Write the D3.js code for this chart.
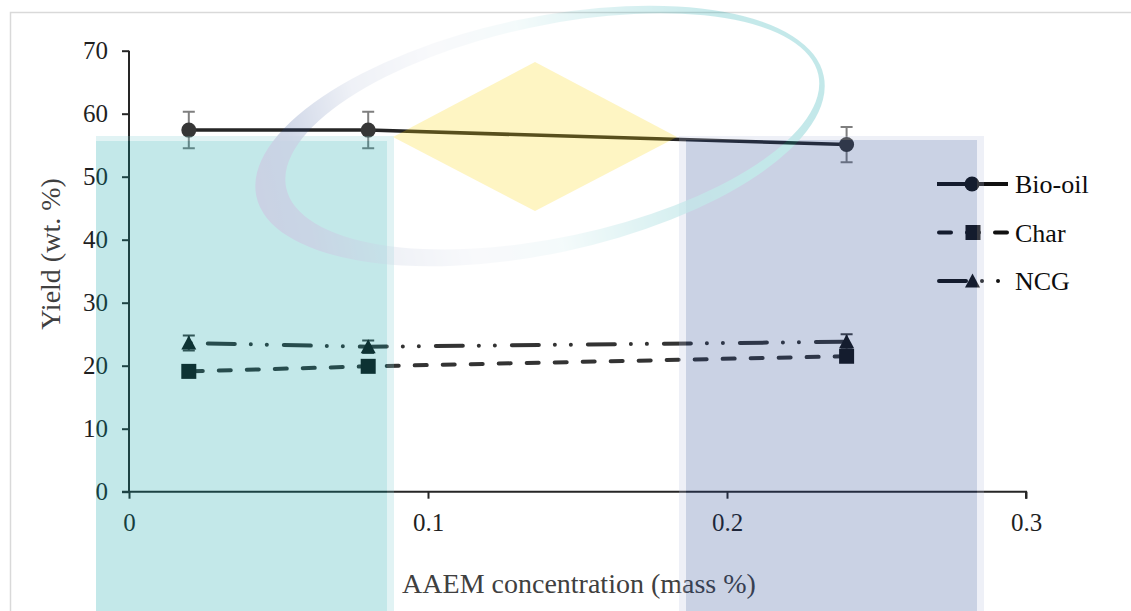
<!DOCTYPE html>
<html>
<head>
<meta charset="utf-8">
<script src="https://cdn.jsdelivr.net/npm/d3@7"></script>
<style>
  html, body { margin: 0; padding: 0; background: #fff; }
  svg { display: block; }
</style>
</head>
<body>
<svg id="chart" width="1131" height="611"></svg>
<script>
// AAEM concentration (mass %) for each run
const concentrations = [0.02, 0.08, 0.24];

// Product yields (wt. %)
const bioOilYield = [57.4, 57.4, 55.1];
const bioOilError = [2.9, 2.9, 2.8];
const charYield = [19.1, 19.9, 21.5];
const ncgYield = [23.6, 23.0, 23.8];
const ncgError = [1.2, 1.0, 1.2];

const seriesNames = ["Bio-oil", "Char", "NCG"];
const xTickValues = [0, 0.1, 0.2, 0.3];
const xTickLabels = ["0", "0.1", "0.2", "0.3"];
const yTickValues = [0, 10, 20, 30, 40, 50, 60, 70];

const xTitle = "AAEM concentration (mass %)";
const yTitle = "Yield (wt. %)";

const FONT = "'Liberation Serif', 'Times New Roman', Times, serif";

const svg = d3.select("#chart");
const W = 1131, H = 611;

svg.append("rect").attr("width", W).attr("height", H).attr("fill", "#fff");
// outer frame
svg.append("rect")
  .attr("x", 10.5).attr("y", 12.5)
  .attr("width", W + 20).attr("height", H + 20)
  .attr("fill", "none").attr("stroke", "#d9d9d9").attr("stroke-width", 1.5);

const x = d3.scaleLinear().domain([0, 0.3]).range([129, 1026]);
const y = d3.scaleLinear().domain([0, 70]).range([491.7, 50.7]);

// axes
const yAxis = svg.append("g")
  .attr("transform", `translate(${x(0)},0)`)
  .call(d3.axisLeft(y).tickValues(yTickValues).tickSize(7).tickPadding(14).tickFormat(d3.format("d")));
const xAxis = svg.append("g")
  .attr("transform", `translate(0,${y(0)})`)
  .call(d3.axisBottom(x).tickValues(xTickValues).tickSize(7).tickPadding(13)
    .tickFormat((d, i) => xTickLabels[i]));

[xAxis, yAxis].forEach(g => {
  g.attr("font-family", FONT).attr("font-size", 25);
  g.select(".domain").attr("stroke", "#262626").attr("stroke-width", 2);
  g.selectAll(".tick line").attr("stroke", "#262626").attr("stroke-width", 2);
  g.selectAll(".tick text")
    .attr("fill", "#1f1f1f")
    .attr("font-family", FONT)
    .attr("font-size", 25);
});
yAxis.select(".domain").attr("d", `M0,${y(0) + 1}V${y(70)}`);
xAxis.select(".domain").attr("d", `M${x(0) - 7},0H${x(0.3)}V7`);
xAxis.selectAll(".tick text").attr("dy", "0.78em");

// axis titles
svg.append("text")
  .attr("x", 579).attr("y", 593)
  .attr("text-anchor", "middle")
  .attr("fill", "#404040")
  .attr("font-family", FONT)
  .attr("font-size", 28)
  .text(xTitle);
svg.append("text")
  .attr("transform", "translate(50,254) rotate(-90)")
  .attr("text-anchor", "middle")
  .attr("dominant-baseline", "central")
  .attr("fill", "#404040")
  .attr("font-family", FONT)
  .attr("font-size", 28)
  .text(yTitle);

const line = d3.line().x(d => x(d[0])).y(d => y(d[1]));
const pts = vals => concentrations.map((c, i) => [c, vals[i]]);

// series lines
svg.append("path").attr("d", line(pts(bioOilYield)))
  .attr("fill", "none").attr("stroke", "#262626").attr("stroke-width", 3.5);
svg.append("path").attr("d", line(pts(charYield)))
  .attr("fill", "none").attr("stroke", "#333").attr("stroke-width", 4)
  .attr("stroke-linecap", "round")
  .attr("stroke-dasharray", "12,16").attr("stroke-dashoffset", -2);
svg.append("path").attr("d", line(pts(ncgYield)))
  .attr("fill", "none").attr("stroke", "#333").attr("stroke-width", 4)
  .attr("stroke-linecap", "round")
  .attr("stroke-dasharray", "27,16,0.01,16,0.01,17").attr("stroke-dashoffset", 57);

// error bars
function errorBars(vals, errs, color) {
  const g = svg.append("g").attr("stroke", color).attr("stroke-width", 2).attr("fill", "none");
  concentrations.forEach((c, i) => {
    const cx = x(c), y1 = y(vals[i] + errs[i]), y2 = y(vals[i] - errs[i]);
    g.append("path").attr("d", `M${cx},${y1}V${y2}M${cx - 6},${y1}H${cx + 6}M${cx - 6},${y2}H${cx + 6}`);
  });
}
errorBars(bioOilYield, bioOilError, "#7f7f7f");
errorBars(ncgYield, ncgError, "#404040");

// markers
const circleMark = (g, cx, cy) => g.append("circle").attr("cx", cx).attr("cy", cy).attr("r", 7.5).attr("fill", "#363636");
const squareMark = (g, cx, cy) => g.append("rect").attr("x", cx - 7.5).attr("y", cy - 7.5).attr("width", 15).attr("height", 15).attr("fill", "#111");
const triMark = (g, cx, cy) => g.append("path").attr("d", `M${cx},${cy - 7.5}L${cx + 7.5},${cy + 6.5}L${cx - 7.5},${cy + 6.5}Z`).attr("fill", "#111");

const markG = svg.append("g");
concentrations.forEach((c, i) => {
  circleMark(markG, x(c), y(bioOilYield[i]));
  squareMark(markG, x(c), y(charYield[i]));
  triMark(markG, x(c), y(ncgYield[i]));
});

// legend
const legend = svg.append("g");
const legY = [184, 232.5, 281];
const lx0 = 939, lx1 = 1006, lmx = 972;
legend.append("path").attr("d", `M${lx0 - 2},${legY[0]}H${lx1 + 2}`)
  .attr("stroke", "#111").attr("stroke-width", 4);
circleMark(legend, lmx, legY[0]).attr("fill", "#111");
legend.append("path").attr("d", `M${lx0},${legY[1]}H${lx1 + 2}`)
  .attr("stroke", "#111").attr("stroke-width", 4).attr("stroke-linecap", "round")
  .attr("stroke-dasharray", "12,16");
squareMark(legend, 973, legY[1]);
legend.append("path").attr("d", `M${lx0},${legY[2]}H${lx1 + 2}`)
  .attr("stroke", "#111").attr("stroke-width", 4).attr("stroke-linecap", "round")
  .attr("stroke-dasharray", "27,16,0.01,16,0.01,17");
triMark(legend, 972.5, legY[2]);
seriesNames.forEach((name, i) => {
  legend.append("text")
    .attr("x", 1015).attr("y", legY[i])
    .attr("dy", "0.35em")
    .attr("fill", "#0d0d0d")
    .attr("font-family", FONT)
    .attr("font-size", 26)
    .text(name);
});

// translucent emblem laid over the plot
const defs = svg.append("defs");
const grad = defs.append("linearGradient")
  .attr("id", "ringGrad").attr("gradientUnits", "userSpaceOnUse")
  .attr("x1", 250).attr("y1", 0).attr("x2", 830).attr("y2", 0);
[[0, "#1e418f", 1], [0.08, "#1e418f", 0.85], [0.2, "#1e418f", 0.3], [0.35, "#1e418f", 0.12],
 [0.5, "#00a0a5", 0.18], [0.65, "#00a0a5", 0.55], [0.85, "#00a0a5", 0.95], [1, "#00a0a5", 1]].forEach(s => {
  grad.append("stop").attr("offset", s[0]).attr("stop-color", s[1]).attr("stop-opacity", s[2]);
});

const emblem = svg.append("g").attr("opacity", 0.23);
// teal panel
emblem.append("rect").attr("x", 96).attr("y", 136).attr("width", 298).attr("height", H).attr("fill", "#80d0d2");
emblem.append("rect").attr("x", 96).attr("y", 141).attr("width", 291).attr("height", H).attr("fill", "#00a0a5");
// blue panel
emblem.append("rect").attr("x", 679).attr("y", 136).attr("width", 305).attr("height", H).attr("fill", "#b7bfde");
emblem.append("rect").attr("x", 686).attr("y", 140).attr("width", 291).attr("height", H).attr("fill", "#1e418f");
// gold diamond
emblem.append("path").attr("d", "M535,62L677,137L535,211L393,137Z").attr("fill", "#fcd500");
// swoosh ring: outer ellipse minus an inner one shifted right
function ellipsePath(cx, cy, rx, ry) {
  return `M${cx - rx},${cy}A${rx},${ry} 0 1,0 ${cx + rx},${cy}A${rx},${ry} 0 1,0 ${cx - rx},${cy}Z`;
}
emblem.append("path")
  .attr("transform", "rotate(-12 540 136)")
  .attr("d", ellipsePath(540, 136, 290, 118) + ellipsePath(553, 134, 272, 106))
  .attr("fill-rule", "evenodd")
  .attr("fill", "url(#ringGrad)");
</script>
</body>
</html>
